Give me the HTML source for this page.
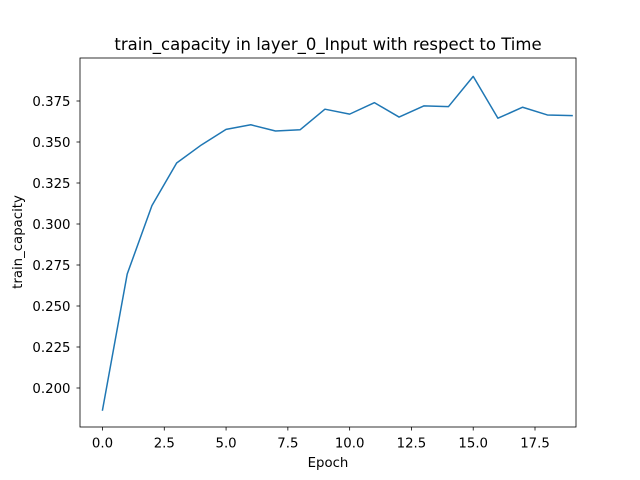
<!DOCTYPE html>
<html><head><meta charset="utf-8"><style>body{margin:0;background:#fff}svg{display:block;font-family:"DejaVu Sans","Liberation Sans",sans-serif}</style></head>
<body>
<svg id="c" width="640" height="480"></svg>
<script>
const epochs=[0,1,2,3,4,5,6,7,8,9,10,11,12,13,14,15,16,17,18,19];
const capacity=[0.1866,0.2695,0.3112,0.3372,0.3482,0.3577,0.3605,0.3567,0.3575,0.3700,0.3670,0.3740,0.3652,0.3720,0.3716,0.3900,0.3645,0.3712,0.3665,0.3661];
const xTicks=[0,2.5,5,7.5,10,12.5,15,17.5];
const xTickLabels=["0.0","2.5","5.0","7.5","10.0","12.5","15.0","17.5"];
const yTicks=[0.2,0.225,0.25,0.275,0.3,0.325,0.35,0.375];
const yTickLabels=["0.200","0.225","0.250","0.275","0.300","0.325","0.350","0.375"];
const NS="http://www.w3.org/2000/svg",s=document.getElementById('c');
const L=80,R=576,T=58,B=427;
const xs=v=>102.5+v*(535-102.5)/17.5;
const ys=v=>388-(v-0.2)/0.025*41;
function el(t,a,txt){const e=document.createElementNS(NS,t);for(const k in a)e.setAttribute(k,a[k]);if(txt!==undefined)e.textContent=txt;s.appendChild(e);return e;}
let e=el('rect',{x:L,y:T,width:R-L,height:B-T,fill:'none',stroke:'#000','stroke-width':0.8});


xTicks.forEach((v,i)=>{const x=xs(v);
e=el('line',{x1:x,x2:x,y1:B,y2:B+3.5,stroke:'#000','stroke-width':0.8});


e=el('text',{x:x,y:B+20.5,'font-size':13.3,'text-anchor':'middle'},xTickLabels[i]);

});
yTicks.forEach((v,i)=>{const y=ys(v);
e=el('line',{x1:L-3.5,x2:L,y1:y,y2:y,stroke:'#000','stroke-width':0.8});


e=el('text',{x:L-9.5,y:y+5,'font-size':13.3,'text-anchor':'end'},yTickLabels[i]);

});
e=el('polyline',{points:epochs.map((d,i)=>xs(d)+','+ys(capacity[i])).join(' '),fill:'none',stroke:'#1f77b4','stroke-width':1.5,'stroke-linejoin':'round','stroke-linecap':'square'});


e=el('text',{x:328,y:50,'font-size':16.5,'text-anchor':'middle'},'train_capacity in layer_0_Input with respect to Time');


e=el('text',{x:328,y:467,'font-size':13.3,'text-anchor':'middle'},'Epoch');


e=el('text',{x:0,y:0,'font-size':13.3,'text-anchor':'middle',transform:'translate(22,242) rotate(-90)'},'train_capacity');


</script>
</body></html>
